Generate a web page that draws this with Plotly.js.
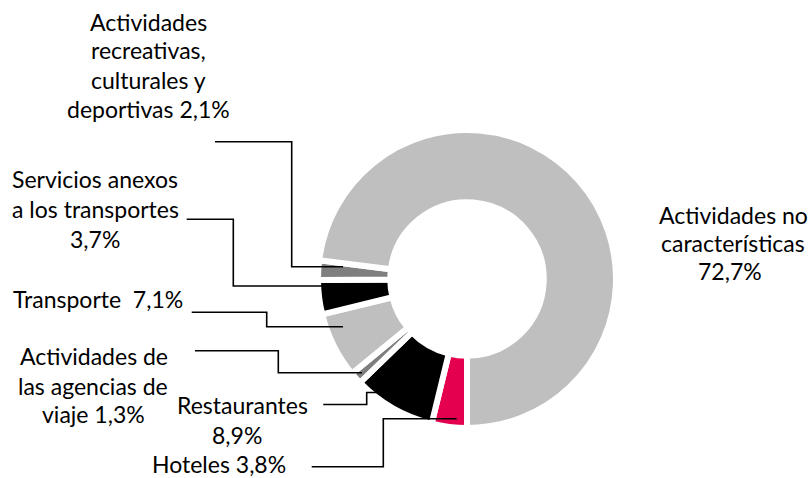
<!DOCTYPE html>
<html>
<head>
<meta charset="utf-8">
<script src="https://cdn.plot.ly/plotly-3.0.1.min.js"></script>
<style>html,body{margin:0;padding:0;background:#fff;}#chart{width:810px;height:478px;}</style>
</head>
<body>
<div id="chart"></div>
<script>
// ---- data (clockwise from 6 o'clock) ----
var categories = [
  "Hoteles",
  "Restaurantes",
  "Actividades de las agencias de viaje",
  "Transporte",
  "Servicios anexos a los transportes",
  "Actividades recreativas, culturales y deportivas",
  "Actividades no características"
];
var shares = [3.8, 8.9, 1.3, 7.1, 3.7, 2.1, 72.7];
var sliceColors = ["#E5004F", "#000000", "#7F7F7F", "#BFBFBF", "#000000", "#7F7F7F", "#BFBFBF"];
var labelLines = [
  ["Hoteles 3,8%"],
  ["Restaurantes", "8,9%"],
  ["Actividades de", "las agencias de", "viaje 1,3%"],
  ["Transporte  7,1%"],
  ["Servicios anexos", "a los transportes", "3,7%"],
  ["Actividades", "recreativas,", "culturales y", "deportivas 2,1%"],
  ["Actividades no", "características", "72,7%"]
];

// ---- layout helpers (pixel positions of labels / leader lines) ----
var W = 810, H = 478;
var cx = 467, cy = 279, r = 149;
var labelPos = [
  [[219, 463.7]],
  [[242.5, 404.7], [237, 434.7]],
  [[94, 355.7], [93, 385.7], [93, 414]],
  [[97.5, 299.3]],
  [[95, 179.3], [95, 209], [95, 239]],
  [[148, 21.7], [148, 50], [148, 80], [148, 109]],
  [[733, 215], [733, 243], [730, 271]]
];
var leaders = [
  [[311.7, 466.7], [383.3, 466.7], [383.3, 418.7], [456.7, 418.7]],
  [[323.3, 404.5], [366.7, 404.5], [366.7, 392.5], [377.5, 392.5]],
  [[195, 350.7], [278.3, 350.7], [278.3, 372.7], [362, 372.7]],
  [[191.7, 312.3], [266.7, 312.3], [266.7, 326.7], [343, 326.7]],
  [[186.7, 219.3], [233.3, 219.3], [233.3, 286], [340, 286]],
  [[215, 141.7], [291.7, 141.7], [291.7, 266.7], [343, 266.7]],
  null
];
function px(x) { return x / W; }
function py(y) { return 1 - y / H; }

var annotations = [];
labelLines.forEach(function (lines, i) {
  lines.forEach(function (t, j) {
    annotations.push({
      text: t, x: px(labelPos[i][j][0]), y: py(labelPos[i][j][1]),
      xref: "paper", yref: "paper", xanchor: "center", yanchor: "middle",
      showarrow: false, font: {family: "Lato, 'Open Sans', sans-serif", size: 23, color: "#000"}
    });
  });
});
var shapes = [];
leaders.forEach(function (pts) {
  if (!pts) return;
  var d = pts.map(function (p, k) { return (k ? "L" : "M") + px(p[0]) + "," + py(p[1]); }).join(" ");
  shapes.push({type: "path", xref: "paper", yref: "paper", path: d, line: {color: "#000", width: 1.6}});
});

var trace = {
  type: "pie",
  labels: categories,
  values: shares,
  sort: false,
  direction: "clockwise",
  rotation: 180,
  hole: 0.515,
  textinfo: "none",
  hoverinfo: "label+percent",
  marker: {colors: sliceColors, line: {color: "#FFFFFF", width: 6}},
  domain: {x: [px(cx - r), px(cx + r)], y: [py(cy + r), py(cy - r)]},
  showlegend: false
};
var layout = {
  width: W, height: H,
  margin: {l: 0, r: 0, t: 0, b: 0},
  paper_bgcolor: "#fff",
  showlegend: false,
  annotations: annotations,
  shapes: shapes
};
Plotly.newPlot("chart", [trace], layout, {displayModeBar: false, staticPlot: true});
</script>
</body>
</html>
